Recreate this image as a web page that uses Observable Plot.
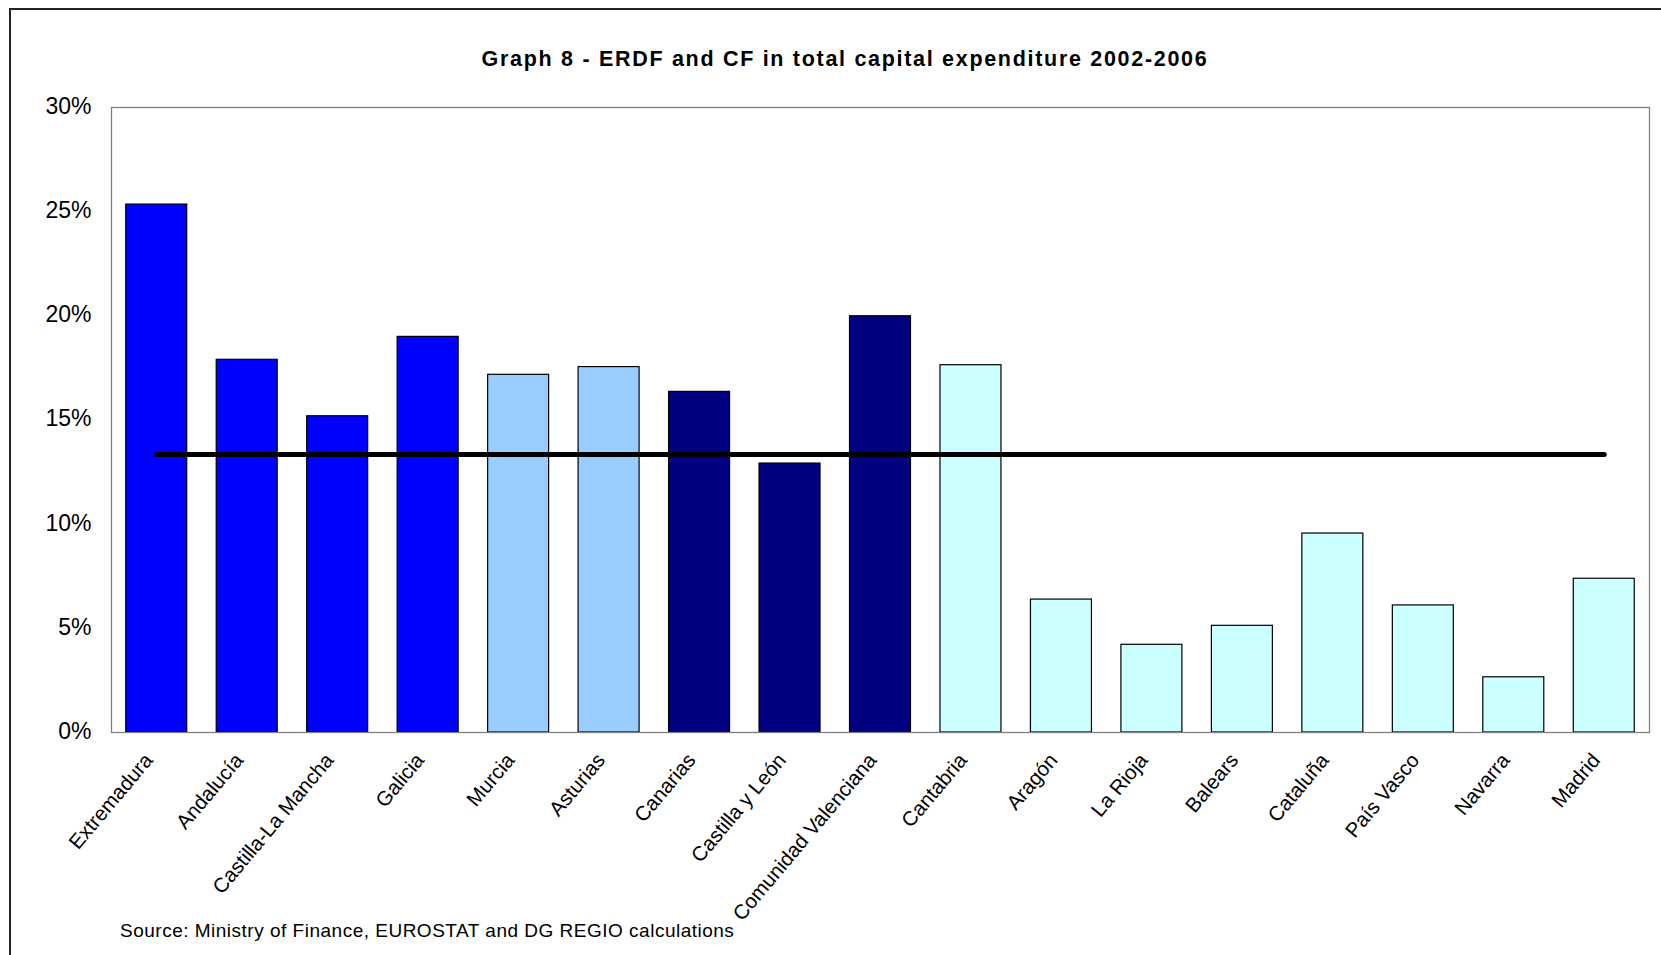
<!DOCTYPE html>
<html>
<head>
<meta charset="utf-8">
<script src="https://cdn.jsdelivr.net/npm/d3@7"></script>
<script src="https://cdn.jsdelivr.net/npm/@observablehq/plot@0.6"></script>
<style>
  html, body { margin: 0; padding: 0; background: #fff; overflow: hidden; width: 1661px; height: 955px; }
  #wrap { position: relative; width: 1661px; height: 955px; font-family: "Liberation Sans", Arial, sans-serif; color: #000; }
  #chart { position: absolute; left: 0; top: 0; }
  #frame { position: absolute; left: 9px; top: 8px; width: 1800px; height: 1100px; border: 2px solid #222; box-sizing: border-box; background: transparent; pointer-events: none; }
  #title { position: absolute; left: 345px; width: 1000px; top: 49px; text-align: center; font-weight: bold; font-size: 21.5px; line-height: 21px; letter-spacing: 1.7px; white-space: nowrap; }
  #source { position: absolute; left: 120px; top: 921px; font-size: 19px; line-height: 19px; letter-spacing: 0.5px; white-space: nowrap; }
</style>
</head>
<body>
<div id="wrap">
  <div id="chart"></div>
  <div id="title">Graph 8 - ERDF and CF in total capital expenditure 2002-2006</div>
  <div id="source">Source: Ministry of Finance, EUROSTAT and DG REGIO calculations</div>
  <div id="frame"></div>
</div>
<script>
// ---- data ----
const regions = ["Extremadura", "Andalucía", "Castilla-La Mancha", "Galicia", "Murcia", "Asturias",
  "Canarias", "Castilla y León", "Comunidad Valenciana", "Cantabria", "Aragón", "La Rioja",
  "Balears", "Cataluña", "País Vasco", "Navarra", "Madrid"];
const shares = [25.34, 17.89, 15.18, 18.99, 17.17, 17.54, 16.35, 12.91, 19.98, 17.63,
  6.38, 4.21, 5.12, 9.55, 6.10, 2.65, 7.38];
const regionGroups = ["Convergence", "Convergence", "Convergence", "Convergence", "Phasing-out", "Phasing-out",
  "Phasing-in", "Phasing-in", "Phasing-in", "Competitiveness", "Competitiveness", "Competitiveness",
  "Competitiveness", "Competitiveness", "Competitiveness", "Competitiveness", "Competitiveness"];
const groupNames = ["Convergence", "Phasing-out", "Phasing-in", "Competitiveness"];
const groupColors = ["#0000FF", "#99CCFF", "#000080", "#CCFFFF"];
const spainAverage = 13.34;
const yTicks = [0, 5, 10, 15, 20, 25, 30];

// ---- tables ----
const bars = regions.map((r, i) => ({region: r, value: shares[i], group: regionGroups[i]}));
const avgLine = regions.map(r => ({region: r, value: spainAverage}));

const chart = Plot.plot({
  width: 1661,
  height: 955,
  marginLeft: 111,
  marginRight: 12,
  marginTop: 107,
  marginBottom: 223,
  style: {fontFamily: "'Liberation Sans', Arial, sans-serif", background: "transparent", color: "#000"},
  x: {domain: regions, paddingInner: 0.326, paddingOuter: 0.163, round: false, label: null},
  y: {domain: [0, 30], label: null},
  color: {domain: groupNames, range: groupColors},
  marks: [
    Plot.barY(bars, {x: "region", y: "value", fill: "group", stroke: "#000", strokeWidth: 1.2}),
    Plot.frame({stroke: "#808080", strokeWidth: 1.3}),
    Plot.lineY(avgLine, {x: "region", y: "value", stroke: "#000", strokeWidth: 5, strokeLinecap: "round"}),
    Plot.axisY({ticks: yTicks, tickFormat: d => d + "%", tickSize: 0, tickPadding: 20, fontSize: 23, dy: -1, label: null}),
    Plot.axisX({tickRotate: -50, tickSize: 0, tickPadding: 24, fontSize: 20.5, dx: -8, label: null})
  ]
});
document.getElementById("chart").appendChild(chart);
</script>
</body>
</html>
